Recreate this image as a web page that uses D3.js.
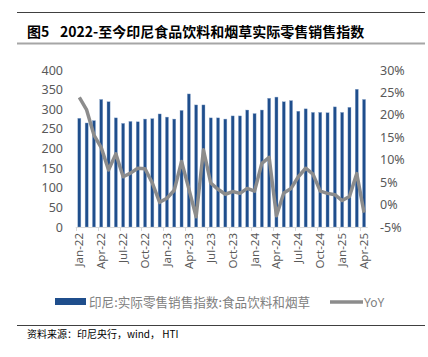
<!DOCTYPE html>
<html><head><meta charset="utf-8">
<script src="https://cdn.jsdelivr.net/npm/d3@7"></script>
<style>
body{margin:0;background:#fff;}
svg{display:block;font-family:"Noto Sans","Noto Sans CJK SC",sans-serif;}
</style></head><body>
<svg id="c" width="428" height="357"></svg>
<script>
const months = ["Jan-22","Feb-22","Mar-22","Apr-22","May-22","Jun-22","Jul-22","Aug-22","Sep-22","Oct-22","Nov-22","Dec-22",
"Jan-23","Feb-23","Mar-23","Apr-23","May-23","Jun-23","Jul-23","Aug-23","Sep-23","Oct-23","Nov-23","Dec-23",
"Jan-24","Feb-24","Mar-24","Apr-24","May-24","Jun-24","Jul-24","Aug-24","Sep-24","Oct-24","Nov-24","Dec-24",
"Jan-25","Feb-25","Mar-25","Apr-25"];
const indexValues = [277,265,271,325,319,278,264,269,268,275,276,288,
280,275,297,339,311,311,278,278,275,283,283,298,
289,298,328,331,319,322,295,301,292,292,291,306,
292,305,351,325];
const yoyValues = [23.9,21.1,15.5,12.7,7.7,11.3,6.2,7.0,8.1,8.0,4.8,0.5,
1.4,3.2,9.6,3.5,-2.7,12.2,4.8,3.4,2.3,2.9,2.5,3.6,
3.0,9.2,10.5,-2.5,2.6,3.6,6.2,8.1,6.8,3.0,2.5,2.2,
0.9,1.8,6.9,-1.8];
const leftTicks = [0,50,100,150,200,250,300,350,400];
const rightTicks = [-5,0,5,10,15,20,25,30];
const tickLabelMonths = months.filter((d,i)=>i%3===0);

const svg = d3.select("#c");
const L = 75.7, R = 367.7, T = 70, B = 227;
const x = d3.scaleBand().domain(months).range([L,R]).paddingInner(0.58).paddingOuter(0.29);
const xb = d3.scaleBand().domain(months).range([L,R]);
const yL = d3.scaleLinear().domain([0,400]).range([B,T]);
const yR = d3.scaleLinear().domain([-5,30]).range([B,T]);
const grey = "#595959";

// title lines
svg.append("line").attr("x1",17).attr("x2",425).attr("y1",12.5).attr("y2",12.5).attr("stroke","#404040").attr("stroke-width",1);
svg.append("line").attr("x1",17).attr("x2",425).attr("y1",43.5).attr("y2",43.5).attr("stroke","#a6a6a6").attr("stroke-width",2);
const title = svg.append("text").attr("y",36.5).attr("font-size",14).attr("font-weight","bold")
  .attr("font-family","'Noto Sans CJK SC',sans-serif").attr("fill","#000");
title.append("tspan").attr("x",27).text("图5");
title.append("tspan").attr("x",60).text("2022-至今印尼食品饮料和烟草实际零售销售指数");

// bars
svg.append("g").selectAll("rect").data(months).join("rect")
  .attr("x",d=>x(d)).attr("width",x.bandwidth())
  .attr("y",(d,i)=>yL(indexValues[i])).attr("height",(d,i)=>B-yL(indexValues[i]))
  .attr("fill","#1f4e8c").attr("stroke","#8fa9cc").attr("stroke-width",0.4);

// x axis
svg.append("line").attr("x1",L).attr("x2",R).attr("y1",B+0.5).attr("y2",B+0.5).attr("stroke","#d9d9d9");
svg.append("g").selectAll("line").data(tickLabelMonths).join("line")
  .attr("x1",d=>Math.round(xb(d))+0.5).attr("x2",d=>Math.round(xb(d))+0.5)
  .attr("y1",B).attr("y2",B+4).attr("stroke","#d9d9d9");
svg.append("g").selectAll("text").data(tickLabelMonths).join("text")
  .attr("transform",d=>`translate(${xb(d)+xb.bandwidth()/2+4},233) rotate(-90)`)
  .attr("text-anchor","end").attr("font-size",11.5).attr("fill",grey).text(d=>d);

// left axis labels
svg.append("g").selectAll("text").data(leftTicks).join("text")
  .attr("x",63).attr("y",d=>yL(d)+4.5).attr("text-anchor","end")
  .attr("font-size",12.5).attr("fill",grey).text(d=>d);
// right axis labels
svg.append("g").selectAll("text").data(rightTicks).join("text")
  .attr("x",380).attr("y",d=>yR(d)+4.5).attr("text-anchor","start")
  .attr("font-size",12.5).attr("fill",grey).text(d=>d+"%");

// line
const line = d3.line().x((d,i)=>xb(months[i])+xb.bandwidth()/2).y(d=>yR(d));
svg.append("path").datum(yoyValues).attr("d",line).attr("fill","none")
  .attr("stroke","#8c8c8c").attr("stroke-width",3.5).attr("stroke-linejoin","round");

// legend
svg.append("rect").attr("x",55).attr("y",298).attr("width",31).attr("height",7).attr("fill","#1f4e8c");
svg.append("text").attr("x",89).attr("y",306.5).attr("font-size",12.6).attr("fill","#808080")
  .attr("font-family","'Noto Sans CJK SC',sans-serif").text("印尼:实际零售销售指数:食品饮料和烟草");
svg.append("line").attr("x1",330).attr("x2",363).attr("y1",302).attr("y2",302).attr("stroke","#8c8c8c").attr("stroke-width",3.5);
svg.append("text").attr("x",364).attr("y",306.5).attr("font-size",12).attr("fill","#808080").text("YoY");

// source
svg.append("line").attr("x1",17).attr("x2",425).attr("y1",325.5).attr("y2",325.5).attr("stroke","#404040").attr("stroke-width",1);
svg.append("text").attr("x",27).attr("y",337.5).attr("font-size",10).attr("fill","#000")
  .attr("font-family","'Noto Sans CJK SC',sans-serif").text("资料来源：印尼央行，wind， HTI");
</script></body></html>
